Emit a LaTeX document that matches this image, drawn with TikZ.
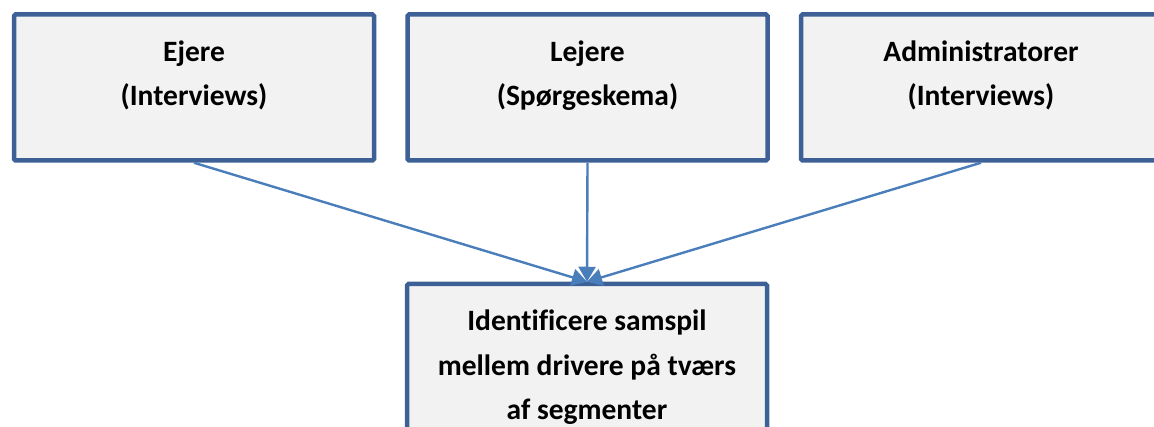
\documentclass[tikz,border=0pt]{standalone}
\usepackage{fontspec}
\setmainfont{Carlito}[Ligatures=CommonOff]
\usepackage{xcolor}
\usetikzlibrary{positioning, arrows.meta}

\definecolor{boxline}{RGB}{61,97,150}
\definecolor{boxfill}{RGB}{242,242,242}
\definecolor{arrowline}{RGB}{74,126,187}

\begin{document}
\begin{tikzpicture}[
        x=1pt, y=1pt,
        box/.style={draw=boxline, fill=boxfill, line width=4.5pt, rounded corners=1.5pt, rectangle, minimum width=360pt, minimum height=146pt, inner sep=0pt},
        label/.style={align=center, inner sep=0pt, font=\fontsize{29.5}{44.5}\selectfont\bfseries},
        arrow/.style={-{Triangle[width=17pt, length=15pt]}, draw=arrowline, line width=2.4pt}
    ]
    \useasboundingbox (0,0) rectangle (1154,-427);
    \clip (0,0) rectangle (1154,-427);

    % Top row: data sources
    \node[box] (ejere) at (194,-87.5) {};
    \node[box] (lejere) [right=29pt of ejere] {};
    \node[box] (admin) [right=29pt of lejere] {};

    % Bottom: result
    \node[box, minimum height=150pt] (samspil) at (587,-359) {};

    % Texts
    \node[label, below=28pt of ejere.north] (ejeretxt) {Ejere\\(Interviews)};
    \node[label, below=28pt of lejere.north] (lejeretxt) {Lejere\\(Spørgeskema)};
    \node[label, below=28pt of admin.north] (admintxt) {Administratorer\\(Interviews)};
    \node[label, below=28pt of samspil.north] (samspiltxt) {Identificere samspil\\mellem drivere på tværs\\af segmenter};

    % Edges into the result box
    \draw [arrow] (ejere.south) -- (samspil.north);
    \draw [arrow] (lejere.south) -- (samspil.north);
    \draw [arrow] (admin.south) -- (samspil.north);

\end{tikzpicture}
\end{document}
